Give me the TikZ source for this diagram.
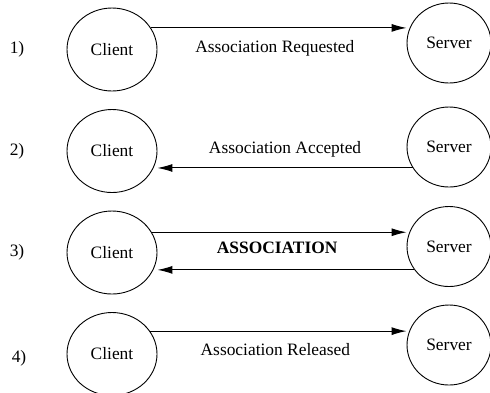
\documentclass[tikz,border=0pt]{standalone}
\usepackage{fontspec}
\setmainfont{Liberation Serif}
\usetikzlibrary{arrows.meta}
\usetikzlibrary{shapes.geometric}

\begin{document}
\begin{tikzpicture}[x=0.5pt, y=-0.5pt, >={Latex[length=7.5pt,width=4pt]}, font=\fontsize{8.7}{10.4}\selectfont]
		\tikzstyle{client} = [draw, ellipse, line width=0.45pt, minimum width=45pt, minimum height=41.5pt, inner sep=0pt]
		\tikzstyle{server} = [draw, ellipse, line width=0.45pt, minimum width=42pt, minimum height=40pt, inner sep=0pt]
		\tikzstyle{msg} = [midway, inner sep=0pt, text height=1.5ex, text depth=.25ex]

		\useasboundingbox (0,0) rectangle (490,392);

		\begin{scope}[]
		\path[->, line width=0.5pt, node distance=168.5pt]

		node[client] (client1) at (112,49.5) {Client}
		node[client, below of=client1, node distance=50.75pt] (client2) {Client}
		node[client, below of=client2, node distance=50.75pt] (client3) {Client}
		node[client, below of=client3, node distance=50.75pt] (client4) {Client}

		node[server, right of=client1, yshift=3.25pt] (server1) {Server}
		node[server, right of=client2, yshift=2pt] (server2) {Server}
		node[server, right of=client3, yshift=3pt] (server3) {Server}
		node[server, right of=client4, yshift=4.5pt] (server4) {Server}

		node[left of=client1, node distance=47.5pt] (num1) {1)}
		node[left of=client2, node distance=47.5pt] (num2) {2)}
		node[left of=client3, node distance=47.5pt] (num3) {3)}
		node[left of=client4, node distance=46.5pt, yshift=-2pt] (num4) {4)}

		(client1.29) edge node[msg, xshift=-2pt, yshift=-9.5pt] {Association Requested} (client1.29 -| server1.west)
		(server2.210) edge node[msg, yshift=10pt] {Association Accepted} (server2.210 -| client2.east)
		(client3.27) edge node[msg, xshift=-1pt, yshift=-8pt] {\bfseries ASSOCIATION} (client3.27 -| server3.west)
		(server3.214) edge (server3.214 -| client3.east)
		(client4.31) edge node[msg, xshift=-1.5pt, yshift=-9.5pt] {Association Released} (client4.31 -| server4.west)
		;
		\end{scope}

\end{tikzpicture}
\end{document}
